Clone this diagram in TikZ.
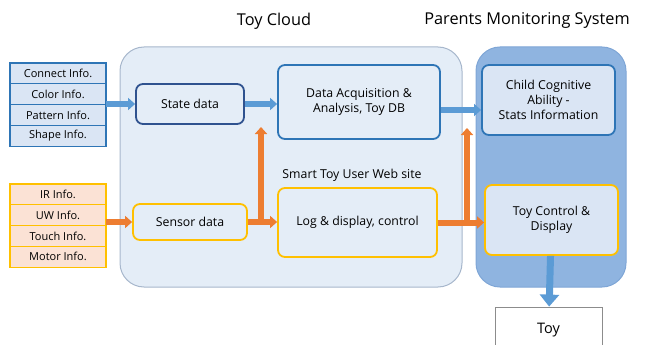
\documentclass[tikz,border=0pt]{standalone}
\usepackage{fontspec}
\setmainfont{Open Sans}
\usetikzlibrary{positioning,arrows.meta}

\definecolor{cloudfill}{HTML}{E4EDF7}
\definecolor{cloudline}{HTML}{A7B7CC}
\definecolor{parentfill}{HTML}{8FB4E0}
\definecolor{parentline}{HTML}{7FA6D6}
\definecolor{boxblue}{HTML}{2E75B6}
\definecolor{boxdark}{HTML}{2F528F}
\definecolor{boxyellow}{HTML}{FFC000}
\definecolor{listblue}{HTML}{DAE5F4}
\definecolor{listpink}{HTML}{FBE2D5}
\definecolor{arrowblue}{HTML}{5B9BD5}
\definecolor{arroworange}{HTML}{ED7D31}

\begin{document}
\begin{tikzpicture}[
    x=1pt, y=-1pt,
    every node/.style={
        align=center,
        inner sep=1pt,
        font=\fontsize{12.3}{15}\selectfont
    },
    region/.style={rounded corners=24pt, line width=1pt},
    infoblue/.style={draw=boxblue, fill=listblue, line width=1.2pt, outer sep=0pt,
        minimum width=96pt, minimum height=20.8pt, font=\fontsize{11}{12}\selectfont},
    infoorange/.style={infoblue, draw=boxyellow, fill=listpink},
    databox/.style={draw, rounded corners=7pt, line width=1.8pt, fill=cloudfill},
    title/.style={font=\fontsize{16.3}{18}\selectfont},
    barrow/.style={-{Triangle[width=12pt,length=7pt]}, line width=6pt, color=arrowblue},
    oarrow/.style={barrow, color=arroworange}
]
\useasboundingbox (0,0) rectangle (646,345);
\clip (0,0) rectangle (646,345);

% Titles
\node[title] (tcloud) at (274,21) {Toy Cloud};
\node[title] (tparent) at (527,20) {Parents Monitoring System};

% Background regions
\node[region, draw=cloudline, fill=cloudfill, minimum width=342pt, minimum height=240pt] (cloud) at (291,167) {};
\node[region, draw=parentline, fill=parentfill, minimum width=150pt, minimum height=240pt] (parent) at (551,167) {};

% Input lists on the left
\node[infoblue] (bl1) at (58,73.4) {Connect Info.};
\node[infoblue, below=0pt of bl1] (bl2) {Color Info.};
\node[infoblue, below=0pt of bl2] (bl3) {Pattern Info.};
\node[infoblue, below=0pt of bl3] (bl4) {Shape Info.};

\node[infoorange] (ol1) at (58,194.4) {IR Info.};
\node[infoorange, below=0pt of ol1] (ol2) {UW Info.};
\node[infoorange, below=0pt of ol2] (ol3) {Touch Info.};
\node[infoorange, below=0pt of ol3] (ol4) {Motor Info.};

% Toy cloud boxes
\node[databox, draw=boxdark, minimum width=108pt, minimum height=40pt] (state) at (190,104) {State data};
\node[databox, draw=boxblue, minimum width=162pt, minimum height=74pt] (acq) at (359,102) {Data Acquisition \&\\Analysis, Toy DB};
\node[databox, draw=boxyellow, minimum width=114pt, minimum height=36pt] (sensor) at (190,222) {Sensor data};
\node[databox, draw=boxyellow, minimum width=159pt, minimum height=69pt] (log) at (357.5,222.5) {Log \& display, control};
\node (web) at (352,175) {Smart Toy User Web site};

% Parents monitoring boxes
\node[databox, draw=boxblue, fill=listblue, minimum width=133pt, minimum height=70pt] (child) at (548.5,100) {Child Cognitive\\Ability -\\Stats Information};
\node[databox, draw=boxyellow, fill=listblue, minimum width=133pt, minimum height=70pt] (control) at (551.5,220) {Toy Control \&\\Display};

% Toy at the bottom
\node[draw=black!45, line width=0.8pt, fill=white, minimum width=107pt, minimum height=46pt, font=\fontsize{14.5}{16}\selectfont] (toy) at (548.5,330) {Toy};

% Free ends of the upward arrows
\coordinate (up1) at (261,127);
\coordinate (up2) at (467,128);

% Arrows
\draw[barrow] (bl2.east |- state) -- (state);
\draw[oarrow] (ol3.east |- sensor) -- (sensor);
\draw[barrow] (state) -- (state -| acq.west);
\draw[oarrow] (sensor) -- (sensor -| log.west);
\draw[oarrow] (sensor -| up1) -- (up1);
\draw[barrow] ([yshift=-8pt]acq.east) -- ([yshift=-8pt]acq.east -| child.west);
\draw[oarrow] (log) -- (log -| control.west);
\draw[oarrow] (log -| up2) -- (up2);
\draw[barrow, line width=7pt, -{Triangle[width=19pt,length=12pt]}] (control) -- (toy);

\end{tikzpicture}
\end{document}
